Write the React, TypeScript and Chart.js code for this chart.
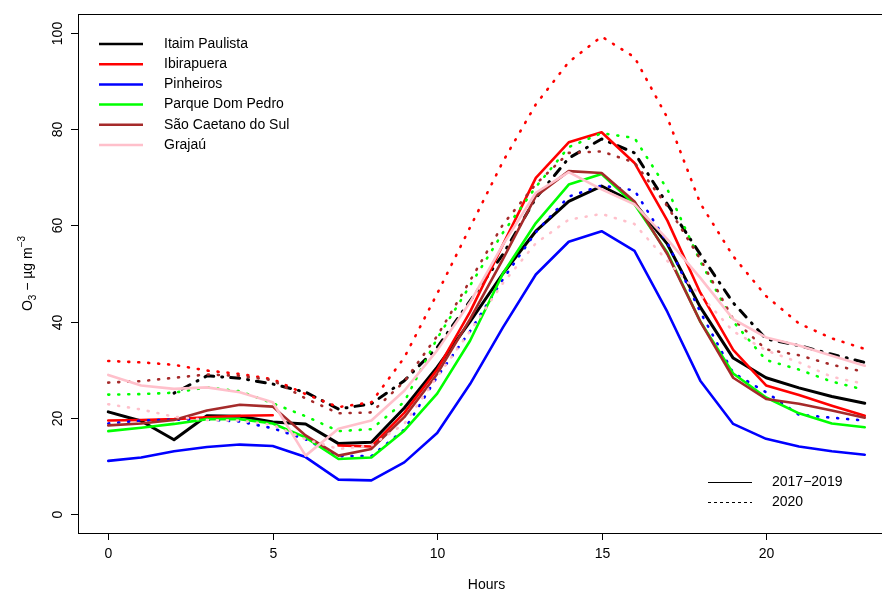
import React, { useEffect, useRef } from "react";
import { Chart, registerables } from "chart.js";

Chart.register(...registerables);

const hours = [0, 1, 2, 3, 4, 5, 6, 7, 8, 9, 10, 11, 12, 13, 14, 15, 16, 17, 18, 19, 20, 21, 22, 23];

const stations = ["Itaim Paulista", "Ibirapuera", "Pinheiros", "Parque Dom Pedro", "São Caetano do Sul", "Grajaú"];
const stationColors = ["#000000", "#FF0000", "#0000FF", "#00FF00", "#A52A2A", "#FFC0CB"];
const periods = ["2017−2019", "2020"];

const xTicks = [0, 5, 10, 15, 20];
const yTicks = [0, 20, 40, 60, 80, 100];
const xTitle = "Hours";

// 2017-2019 (solid)
const itaimBase = [21.2, 19.3, 15.4, 20.4, 20.3, 19.1, 18.7, 14.6, 14.9, 22.0, 30.5, 40.0, 50.0, 58.8, 65.0, 68.2, 64.7, 56.1, 43.0, 32.4, 28.3, 26.2, 24.4, 23.0];
const ibiraBase = [19.4, 19.5, 19.7, 20.1, 20.4, 20.5, null, 14.2, 14.0, 21.0, 30.0, 42.0, 56.0, 69.9, 77.3, 79.4, 73.0, 61.0, 46.0, 34.1, 26.7, 24.7, 22.5, 20.4];
const pinhBase = [11.0, 11.7, 13.0, 13.9, 14.4, 14.1, 11.8, 7.1, 6.95, 10.7, 16.8, 27.0, 38.8, 49.8, 56.6, 58.8, 54.7, 42.0, 27.7, 18.7, 15.6, 14.0, 13.0, 12.3];
const parqueBase = [17.2, 17.9, 18.7, 19.7, 19.7, 18.8, 15.9, 11.4, 11.7, 17.3, 25.0, 36.0, 50.0, 60.5, 68.5, 70.7, 64.4, 54.3, 40.0, 29.2, 24.2, 20.9, 18.8, 18.0];
const saoBase = [18.4, 18.8, 19.5, 21.5, 22.7, 22.3, 16.3, 12.1, 13.5, 20.1, 29.1, 40.5, 53.0, 66.1, 71.3, 70.9, 65.0, 54.0, 40.0, 28.3, 23.9, 22.9, 21.5, 20.0];
const grajauBase = [28.9, 26.7, 26.0, 26.3, 25.3, 23.2, 12.1, 17.7, 19.4, 25.6, 34.0, 44.0, 56.0, 66.8, 71.1, 67.5, 64.4, 57.1, 49.1, 40.5, 36.7, 35.0, 32.9, 30.8];

// 2020 (dashed / dotted)
const itaim2020 = [null, null, 25.1, 28.7, 28.2, 27.0, 25.3, 21.8, 22.9, 27.7, 34.6, 44.3, 54.0, 65.7, 74.0, 78.0, 75.1, 64.4, 54.0, 43.9, 36.4, 35.0, 33.2, 31.5];
const ibira2020 = [31.8, 31.5, 31.0, 29.8, 29.1, 28.0, 24.9, 22.2, 23.2, 32.5, 45.8, 59.6, 73.3, 85.2, 94.0, 99.3, 95.0, 82.4, 64.6, 53.6, 45.3, 39.6, 36.5, 34.3];
const pinh2020 = [18.8, 19.4, 19.6, 19.6, 19.2, 17.8, 15.5, 12.0, 12.0, 17.5, 28.5, 38.0, 48.8, 58.6, 66.0, 68.3, 67.3, 56.4, 42.0, 29.3, 25.3, 20.6, 20.0, 19.4];
const parque2020 = [24.8, 24.9, 25.2, 26.3, 25.5, 23.0, 20.3, 17.2, 17.6, 23.3, 36.5, 47.5, 58.5, 68.0, 76.3, 79.2, 78.2, 67.5, 52.5, 40.0, 32.0, 30.0, 27.5, 25.8];
const sao2020 = [27.3, 27.6, 28.3, 29.0, 28.7, 27.8, 24.0, 20.9, 21.1, 27.5, 37.0, 48.5, 60.2, 68.6, 75.1, 75.4, 73.1, 64.0, 53.0, 40.5, 34.2, 33.0, 31.0, 29.5];
const grajau2020 = [22.8, 21.7, 20.2, 19.5, 19.4, 18.5, 15.5, 13.5, 14.2, 18.7, 28.5, 38.0, 48.0, 56.3, 61.2, 62.4, 60.3, 52.6, 45.5, 38.0, 34.0, 31.5, 28.5, 27.0];

const baseSeries = [itaimBase, ibiraBase, pinhBase, parqueBase, saoBase, grajauBase];
const series2020 = [itaim2020, ibira2020, pinh2020, parque2020, sao2020, grajau2020];

const FONT = '"Liberation Sans", Arial, Helvetica, sans-serif';

const rPlot = {
  id: "rPlot",
  afterDraw(chart: any) {
    const ctx = chart.ctx as CanvasRenderingContext2D;
    const xs = chart.scales.x;
    const ys = chart.scales.y;
    const a = chart.chartArea;
    ctx.save();
    ctx.strokeStyle = "#000";
    ctx.fillStyle = "#000";
    ctx.lineWidth = 1;
    ctx.setLineDash([]);
    // box
    ctx.strokeRect(a.left + 0.5, a.top + 0.5, a.right - a.left, a.bottom - a.top);
    ctx.font = `14px ${FONT}`;
    // x ticks
    ctx.textAlign = "center";
    ctx.textBaseline = "middle";
    xTicks.forEach((t) => {
      const px = Math.round(xs.getPixelForValue(t)) + 0.5;
      ctx.beginPath();
      ctx.moveTo(px, a.bottom);
      ctx.lineTo(px, a.bottom + 7);
      ctx.stroke();
      ctx.fillText(String(t), px, a.bottom + 21);
    });
    // y ticks
    yTicks.forEach((t) => {
      const py = Math.round(ys.getPixelForValue(t)) + 0.5;
      ctx.beginPath();
      ctx.moveTo(a.left, py);
      ctx.lineTo(a.left - 7, py);
      ctx.stroke();
      ctx.save();
      ctx.translate(a.left - 20, py);
      ctx.rotate(-Math.PI / 2);
      ctx.fillText(String(t), 0, 0);
      ctx.restore();
    });
    // x title
    ctx.fillText(xTitle, (a.left + a.right) / 2, 585);
    // y title: O3 – µg m^-3
    ctx.save();
    ctx.translate(32, (a.top + a.bottom) / 2);
    ctx.rotate(-Math.PI / 2);
    ctx.textAlign = "left";
    ctx.textBaseline = "alphabetic";
    const big = `14px ${FONT}`;
    const small = `10px ${FONT}`;
    const parts: [string, string, number][] = [
      ["O", big, 0],
      ["3", small, 4],
      [" − µg m", big, 0],
      ["−3", small, -7],
    ];
    let total = 0;
    parts.forEach(([s, f]) => {
      ctx.font = f;
      total += ctx.measureText(s).width;
    });
    let cx = -total / 2;
    parts.forEach(([s, f, dy]) => {
      ctx.font = f;
      ctx.fillText(s, cx, dy);
      cx += ctx.measureText(s).width;
    });
    ctx.restore();

    // station legend
    ctx.font = `14px ${FONT}`;
    ctx.textAlign = "left";
    ctx.textBaseline = "middle";
    stations.forEach((name, i) => {
      const y = 44 + i * 20.2;
      ctx.strokeStyle = stationColors[i];
      ctx.lineWidth = 2.5;
      ctx.beginPath();
      ctx.moveTo(99, y);
      ctx.lineTo(143, y);
      ctx.stroke();
      ctx.fillStyle = "#000";
      ctx.fillText(name, 164, y);
    });
    // period legend
    periods.forEach((p, i) => {
      const y = Math.round(482 + i * 20) + 0.5;
      ctx.strokeStyle = "#000";
      ctx.lineWidth = 1;
      ctx.setLineDash(i === 0 ? [] : [3, 3]);
      ctx.beginPath();
      ctx.moveTo(708, y);
      ctx.lineTo(752, y);
      ctx.stroke();
      ctx.setLineDash([]);
      ctx.fillText(p, 772, y);
    });
    ctx.restore();
  },
};

export default function App() {
  const ref = useRef<HTMLCanvasElement | null>(null);
  useEffect(() => {
    if (!ref.current) return;
    const datasets: any[] = [];
    let k = 0;
    stations.forEach((name, i) => {
      const col = stationColors[i];
      datasets.push({
        label: `${name} ${periods[0]}`,
        data: baseSeries[i],
        borderColor: col,
        backgroundColor: col,
        borderWidth: i === 0 ? 3 : 2.6,
        pointRadius: 0,
        borderCapStyle: "round",
        borderJoinStyle: "round",
        spanGaps: false,
        tension: 0,
        order: 100 - k++,
      });
      datasets.push({
        label: `${name} ${periods[1]}`,
        data: series2020[i],
        borderColor: col,
        backgroundColor: col,
        borderWidth: i === 0 ? 3 : 2.6,
        pointRadius: 0,
        borderDash: i === 0 ? [1, 8, 9, 8] : [1, 9],
        borderCapStyle: "round",
        borderJoinStyle: "round",
        spanGaps: false,
        tension: 0,
        order: 100 - k++,
      });
    });
    const chart = new Chart(ref.current, {
      type: "line",
      data: {
        labels: hours,
        datasets: datasets.map((d) => ({
          ...d,
          data: d.data.map((v: number | null, j: number) => ({ x: hours[j], y: v })),
        })),
      },
      options: {
        animation: false,
        responsive: false,
        devicePixelRatio: 1,
        layout: { padding: { left: 78, top: 14, right: 15, bottom: 59 } },
        plugins: { legend: { display: false }, tooltip: { enabled: false } },
        scales: {
          x: { type: "linear", min: -0.92, max: 23.92, display: false },
          y: { type: "linear", min: -4, max: 104, display: false },
        },
      },
      plugins: [rPlot],
    });
    return () => chart.destroy();
  }, []);
  return (
    <div style={{ position: "absolute", left: 0, top: 0, width: 882, height: 592, overflow: "hidden", background: "#fff" }}>
      <canvas ref={ref} width={910} height={592} style={{ display: "block" }} />
    </div>
  );
}
